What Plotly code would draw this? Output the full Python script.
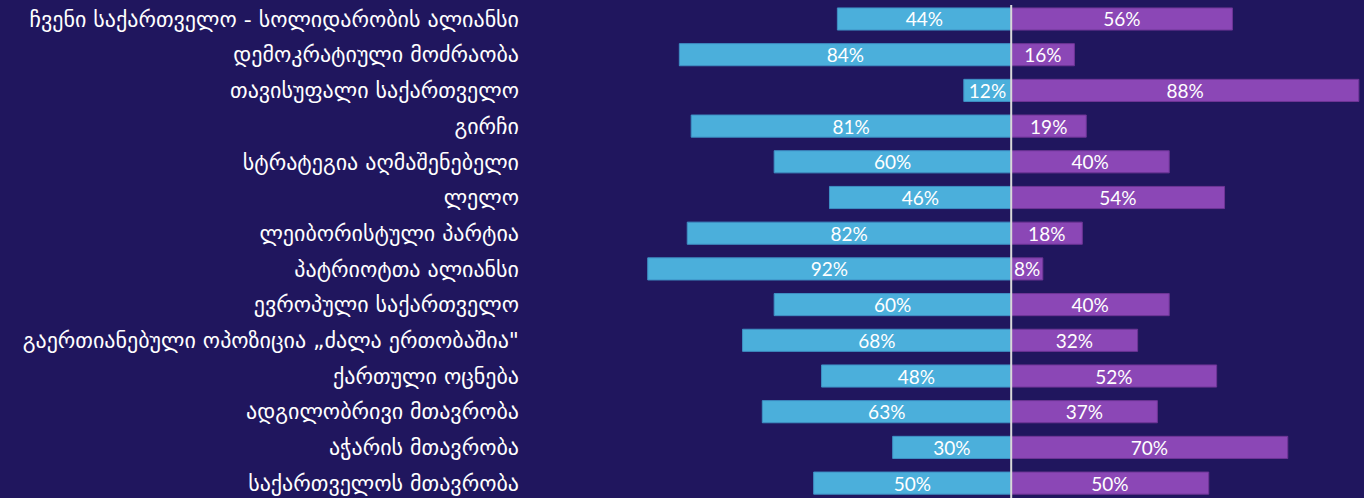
import plotly.graph_objects as go

categories = [
    "ჩვენი საქართველო - სოლიდარობის ალიანსი",
    "დემოკრატიული მოძრაობა",
    "თავისუფალი საქართველო",
    "გირჩი",
    "სტრატეგია აღმაშენებელი",
    "ლელო",
    "ლეიბორისტული პარტია",
    "პატრიოტთა ალიანსი",
    "ევროპული საქართველო",
    "გაერთიანებული ოპოზიცია „ძალა ერთობაშია\"",
    "ქართული ოცნება",
    "ადგილობრივი მთავრობა",
    "აჭარის მთავრობა",
    "საქართველოს მთავრობა",
]
left_values = [44, 84, 12, 81, 60, 46, 82, 92, 60, 68, 48, 63, 30, 50]
right_values = [56, 16, 88, 19, 40, 54, 18, 8, 40, 32, 52, 37, 70, 50]

BG = "#20165E"
BLUE = "#4BAFDB"
PURPLE = "#8B47B6"

idx = list(range(len(categories)))

fig = go.Figure()
fig.add_trace(go.Bar(
    y=idx, x=[-v for v in left_values], orientation="h",
    marker=dict(color=BLUE, line=dict(color="#3E8FC4", width=1)),
    text=[f"{v}%" for v in left_values], textposition="inside",
    insidetextanchor="middle", constraintext="none",
    textfont=dict(family="Lato, Open Sans, sans-serif", size=19, color="white"),
    hoverinfo="skip", showlegend=False,
))
fig.add_trace(go.Bar(
    y=idx, x=right_values, orientation="h",
    marker=dict(color=PURPLE, line=dict(color="#6E3596", width=1)),
    text=[f"{v}%" for v in right_values], textposition="inside",
    insidetextanchor="middle", constraintext="none",
    textfont=dict(family="Lato, Open Sans, sans-serif", size=19, color="white"),
    hoverinfo="skip", showlegend=False,
))

fig.add_shape(type="line", xref="x", yref="paper", x0=0, x1=0, y0=0, y1=0.99,
              line=dict(color="#D9D9D9", width=2), layer="above")

fig.update_layout(
    width=1364, height=498,
    paper_bgcolor=BG, plot_bgcolor=BG,
    margin=dict(l=530, r=0, t=0, b=0),
    barmode="relative", bargap=0.38,
    xaxis=dict(range=[-121.8, 89.3], showgrid=False, zeroline=False,
               showticklabels=False, fixedrange=True),
    yaxis=dict(range=[13.417, -0.532], tickmode="array", tickvals=idx,
               ticktext=categories, showgrid=False, zeroline=False,
               ticks="", ticklabelstandoff=10,
               tickfont=dict(family="DejaVu Sans, sans-serif", size=22, color="white")),
)

fig.write_html("out.html", config={"displayModeBar": False},
               post_script="document.body.style.margin='0';document.body.style.background='%s';" % BG)
